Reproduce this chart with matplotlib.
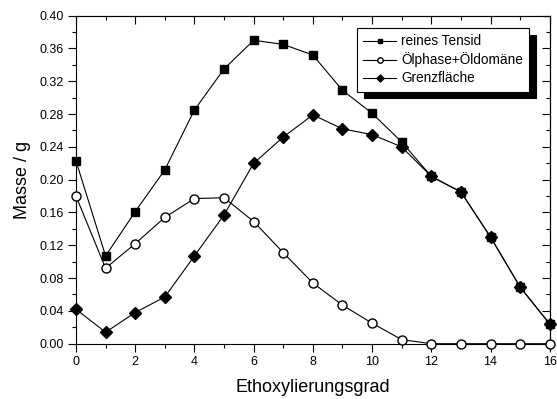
import matplotlib.pyplot as plt
from matplotlib.ticker import MultipleLocator, FormatStrFormatter

plt.rcParams['font.family'] = ['Liberation Sans', 'DejaVu Sans']

# Ethoxylierungsgrad 0..16
eo = list(range(0, 17))

tensid = [0.223, 0.107, 0.161, 0.212, 0.285, 0.335, 0.370, 0.365, 0.352,
          0.309, 0.281, 0.246, 0.204, 0.185, 0.130, 0.069, 0.024]
oelphase = [0.180, 0.092, 0.122, 0.154, 0.177, 0.178, 0.149, 0.111, 0.074,
            0.047, 0.025, 0.005, 0.0, 0.0, 0.0, 0.0, 0.0]
grenzflaeche = [0.042, 0.014, 0.038, 0.057, 0.107, 0.157, 0.220, 0.252, 0.279,
                0.262, 0.255, 0.240, 0.204, 0.185, 0.130, 0.069, 0.024]

fig = plt.figure(figsize=(5.57, 3.99), dpi=100)
ax = fig.add_axes([0.1364, 0.1386, 0.8506, 0.8221])

ax.plot(eo, tensid, '-s', color='black', lw=0.8, ms=6, label='reines Tensid', clip_on=False, zorder=3)
ax.plot(eo, oelphase, '-o', color='black', mfc='white', lw=0.8, ms=6.5,
        label='Ölphase+Öldomäne', clip_on=False, zorder=3)
ax.plot(eo, grenzflaeche, '-D', color='black', lw=0.8, ms=6,
        label='Grenzfläche', clip_on=False, zorder=4)

ax.set_xlim(0, 16)
ax.set_ylim(0, 0.40)
ax.xaxis.set_major_locator(MultipleLocator(2))
ax.xaxis.set_minor_locator(MultipleLocator(1))
ax.yaxis.set_major_locator(MultipleLocator(0.04))
ax.yaxis.set_minor_locator(MultipleLocator(0.02))
ax.yaxis.set_major_formatter(FormatStrFormatter('%.2f'))
ax.tick_params(which='major', direction='out', length=5.5, width=0.8, labelsize=9, pad=3)
ax.tick_params(which='minor', direction='out', length=3, width=0.8)

# mirrored ticks on top and right, pointing inward
top = ax.secondary_xaxis('top')
top.xaxis.set_major_locator(MultipleLocator(2))
top.xaxis.set_minor_locator(MultipleLocator(1))
top.tick_params(which='major', direction='in', length=5.5, width=0.8, labeltop=False)
top.tick_params(which='minor', direction='in', length=3, width=0.8)
right = ax.secondary_yaxis('right')
right.yaxis.set_major_locator(MultipleLocator(0.04))
right.yaxis.set_minor_locator(MultipleLocator(0.02))
right.tick_params(which='major', direction='in', length=5.5, width=0.8, labelright=False)
right.tick_params(which='minor', direction='in', length=3, width=0.8)

for s in ax.spines.values():
    s.set_linewidth(0.8)

ax.set_xlabel('Ethoxylierungsgrad', fontsize=13, labelpad=8)
ax.set_ylabel('Masse / g', fontsize=13, labelpad=6)

leg = ax.legend(loc='upper left', bbox_to_anchor=(0.5935, 0.962), fontsize=9.8,
                fancybox=False, edgecolor='black', framealpha=1,
                shadow={'color': 'black', 'alpha': 1, 'ox': 5, 'oy': -5},
                markerscale=0.6, handlelength=2.4, borderpad=0.45,
                labelspacing=0.3, handletextpad=0.4, borderaxespad=0)
leg.get_frame().set_linewidth(0.8)

fig.savefig('out.png', dpi=100)
